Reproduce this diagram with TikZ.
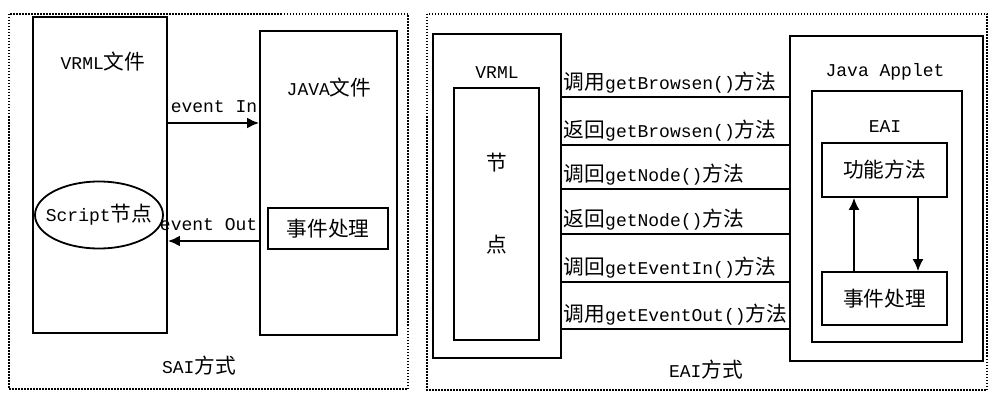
\documentclass[tikz,border=0pt]{standalone}
\usepackage{fontspec}
\setmainfont{Liberation Mono}
\newfontfamily\cjk{Noto Sans CJK SC}[Scale=1.15]
\newcommand\zw[1]{{\cjk #1}}
\usetikzlibrary{arrows.meta}

\tikzset{
    box/.style = {draw, rectangle, inner sep = 0pt},
    frame/.style = {line width = 2.2pt, dash pattern = on 1.5pt off 1.5pt},
    txt/.style = {inner sep = 1pt}
}

\begin{document}
\begin{tikzpicture}[%
        > = {Latex[length = 12pt, width = 11pt]},
        x = 1pt, y = -1pt,
        line width = 1.8pt,
        font = \fontsize{18pt}{20pt}\selectfont
    ]

        \useasboundingbox (0, 0) rectangle (990, 393);

        % Dotted frames.
        \draw[frame] (9, 14) rectangle (408, 389);
        \draw[frame] (427, 14) rectangle (987, 390);

        % SAI: boxes.
        \node[box, minimum width = 134pt, minimum height = 316pt] (vrmlfile) at (100, 175) {};
        \node[box, minimum width = 137pt, minimum height = 304pt] (javafile) at (328.5, 183) {};
        \node[txt] (script) at (99, 215) {Script\zw{节点}};
        \draw (script.center) ellipse [x radius = 64, y radius = 33.5];
        \node[box, minimum width = 120pt, minimum height = 41pt] (handlersai) at (328, 228.5) {\zw{事件处理}};
        \node[txt] (vrmltitle) at (103, 62) {VRML\zw{文件}};
        \node[txt] (javatitle) at (329, 88) {JAVA\zw{文件}};
        \node[txt] (sai) at (199, 366) {SAI\zw{方式}};

        % SAI: events.
        \coordinate (inY) at (0, 123);
        \coordinate (outY) at (0, 241);
        \begin{scope}[line width = 2.2pt]
            \draw[->] (vrmlfile.east |- inY) to (javafile.west |- inY);
            \draw[->] (javafile.west |- outY) to (vrmlfile.east |- outY);
        \end{scope}
        \node[txt, anchor = east] (evin) at ([yshift = 16pt] javafile.west |- inY) {event In};
        \node[txt, anchor = east] (evout) at ([yshift = 16pt] javafile.west |- outY) {event Out};

        % EAI: boxes.
        \node[box, minimum width = 128pt, minimum height = 324pt] (vrmleai) at (497, 196) {};
        \node[box, minimum width = 85pt, minimum height = 252pt] (nodebox) at (496.5, 214) {};
        \node[box, minimum width = 193pt, minimum height = 325pt] (applet) at (886.5, 198.5) {};
        \node[box, minimum width = 150pt, minimum height = 251pt] (eai) at (887, 216.5) {};
        \node[box, minimum width = 125pt, minimum height = 54pt] (method) at (884.5, 170) {\zw{功能方法}};
        \node[box, minimum width = 125pt, minimum height = 53pt] (handlereai) at (884.5, 298.5) {\zw{事件处理}};
        \node[txt] (vrmllabel) at (497, 73) {VRML};
        \node[txt] (jie) at (497, 163) {\zw{节}};
        \node[txt] (dian) at (497, 245) {\zw{点}};
        \node[txt] (applettitle) at (885, 72) {Java Applet};
        \node[txt] (eaititle) at (885, 127) {EAI};
        \node[txt] (eaiway) at (706, 370) {EAI\zw{方式}};

        % EAI: calls between VRML and the applet.
        \foreach \y/\txt [count = \i] in {%
            97/{\zw{调用}getBrowsen()\zw{方法}},
            145/{\zw{返回}getBrowsen()\zw{方法}},
            189/{\zw{调回}getNode()\zw{方法}},
            234/{\zw{返回}getNode()\zw{方法}},
            282/{\zw{调回}getEventIn()\zw{方法}},
            329/{\zw{调用}getEventOut()\zw{方法}}}{%
            \coordinate (call\i) at (0, \y);
            \draw (vrmleai.east |- call\i) to (applet.west |- call\i);
            \node[txt, anchor = west] (calltxt\i) at ([yshift = 14pt] vrmleai.east |- call\i) {\txt};
        }

        % EAI: arrows inside.
        \coordinate (upX) at (854, 0);
        \coordinate (downX) at (918, 0);
        \draw[->] (handlereai.north -| upX) to (method.south -| upX);
        \draw[->] (method.south -| downX) to (handlereai.north -| downX);
    \end{tikzpicture}
\end{document}
